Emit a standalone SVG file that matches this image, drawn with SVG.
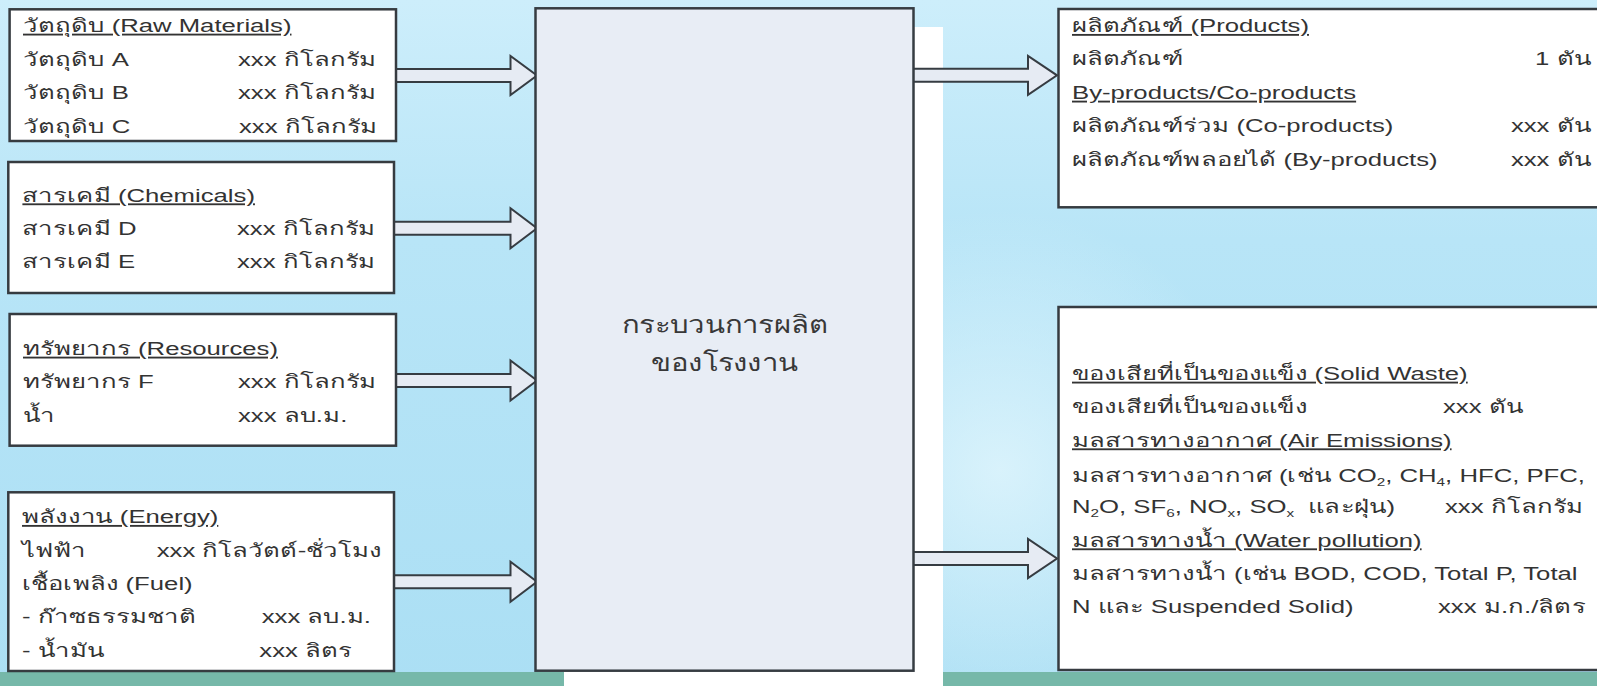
<svg xmlns="http://www.w3.org/2000/svg" width="1597" height="686" viewBox="0 0 1597 686">
<style>
.t{font-family:"Liberation Sans","Noto Sans","DejaVu Sans",sans-serif;font-size:18.5px;fill:#333333}
.u{text-decoration:underline}
.e{text-anchor:end}
.m{font-family:"Liberation Sans","Noto Sans","DejaVu Sans",sans-serif;font-size:24px;fill:#383838;text-anchor:middle}
.box{fill:#ffffff;stroke:#363b40;stroke-width:2.5}
.main{fill:#e8edf5;stroke:#363c42;stroke-width:2.5}
.arr{fill:#e6ebf3;stroke:#363c42;stroke-width:2;stroke-linejoin:miter}
</style>
<defs>
<linearGradient id="bg" x1="0" y1="0" x2="0" y2="1">
<stop offset="0" stop-color="#cdeefb"/>
<stop offset="0.35" stop-color="#b8e5f7"/>
<stop offset="1" stop-color="#abdff4"/>
</linearGradient>
<radialGradient id="glow" cx="1000" cy="470" r="260" gradientUnits="userSpaceOnUse">
<stop offset="0" stop-color="#e2f6fd" stop-opacity="0.8"/>
<stop offset="1" stop-color="#e2f6fd" stop-opacity="0"/>
</radialGradient>
</defs>
<rect x="0" y="0" width="1597" height="686" fill="url(#bg)"/>
<rect x="0" y="0" width="1597" height="686" fill="url(#glow)"/>
<rect x="0" y="672" width="1597" height="14" fill="#76b8a9"/>
<rect x="564" y="27" width="379" height="659" fill="#ffffff"/>

<g id="connectors">
<polygon class="arr" points="390,69 510.5,69 510.5,56 537,75.5 510.5,95 510.5,82 390,82"/>
<polygon class="arr" points="388,221.8 510.5,221.8 510.5,208.3 537,228.3 510.5,248.3 510.5,234.8 388,234.8"/>
<polygon class="arr" points="390,374 510.5,374 510.5,360.5 537,380.5 510.5,400.5 510.5,387 390,387"/>
<polygon class="arr" points="388,575.2 510.5,575.2 510.5,561.7 537,581.7 510.5,601.7 510.5,588.2 388,588.2"/>
<polygon class="arr" points="905,68.8 1028,68.8 1028,55.8 1057,75.3 1028,94.8 1028,81.8 905,81.8"/>
<polygon class="arr" points="905,552 1028,552 1028,539 1057,558.5 1028,578 1028,565 905,565"/>
</g>

<g id="raw-materials">
<rect class="box" x="9.6" y="9.3" width="386.4" height="131.7"/>
<text class="t u" transform="translate(23,32) scale(1.39,1)">วัตถุดิบ (Raw Materials)</text>
<text class="t" transform="translate(23,65.7) scale(1.39,1)">วัตถุดิบ A</text>
<text class="t" transform="translate(238,65.7) scale(1.39,1)">xxx กิโลกรัม</text>
<text class="t" transform="translate(23,99) scale(1.39,1)">วัตถุดิบ B</text>
<text class="t" transform="translate(238,99) scale(1.39,1)">xxx กิโลกรัม</text>
<text class="t" transform="translate(23,132.7) scale(1.39,1)">วัตถุดิบ C</text>
<text class="t" transform="translate(239,132.7) scale(1.39,1)">xxx กิโลกรัม</text>
</g>

<g id="chemicals">
<rect class="box" x="8.3" y="162" width="385.7" height="131"/>
<text class="t u" transform="translate(22.4,201.7) scale(1.39,1)">สารเคมี (Chemicals)</text>
<text class="t" transform="translate(22.4,235) scale(1.39,1)">สารเคมี D</text>
<text class="t" transform="translate(237,235) scale(1.39,1)">xxx กิโลกรัม</text>
<text class="t" transform="translate(22.4,268) scale(1.39,1)">สารเคมี E</text>
<text class="t" transform="translate(237,268) scale(1.39,1)">xxx กิโลกรัม</text>
</g>

<g id="resources">
<rect class="box" x="9.6" y="314" width="386.4" height="131.7"/>
<text class="t u" transform="translate(23,355) scale(1.39,1)">ทรัพยากร (Resources)</text>
<text class="t" transform="translate(23,388.3) scale(1.39,1)">ทรัพยากร F</text>
<text class="t" transform="translate(238,388.3) scale(1.39,1)">xxx กิโลกรัม</text>
<text class="t" transform="translate(23,421.7) scale(1.39,1)">น้ำ</text>
<text class="t" transform="translate(238,421.7) scale(1.39,1)">xxx ลบ.ม.</text>
</g>

<g id="energy">
<rect class="box" x="8.3" y="492.3" width="385.7" height="178.7"/>
<text class="t u" transform="translate(22,523.3) scale(1.39,1)">พลังงาน (Energy)</text>
<text class="t" transform="translate(22,556.7) scale(1.39,1)">ไฟฟ้า</text>
<text class="t" transform="translate(156.7,556.7) scale(1.39,1)">xxx กิโลวัตต์-ชั่วโมง</text>
<text class="t" transform="translate(22,590) scale(1.39,1)">เชื้อเพลิง (Fuel)</text>
<text class="t" transform="translate(22,623.3) scale(1.39,1)">- ก๊าซธรรมชาติ</text>
<text class="t" transform="translate(261.7,623.3) scale(1.39,1)">xxx ลบ.ม.</text>
<text class="t" transform="translate(22,656.7) scale(1.39,1)">- น้ำมัน</text>
<text class="t" transform="translate(259.3,656.7) scale(1.39,1)">xxx ลิตร</text>
</g>

<g id="process">
<rect class="main" x="535.5" y="8.3" width="378" height="662.4"/>
<text class="m" transform="translate(724.5,333) scale(1.22,1)">กระบวนการผลิต</text>
<text class="m" transform="translate(724.5,371) scale(1.22,1)">ของโรงงาน</text>
</g>

<g id="products">
<rect class="box" x="1058.5" y="9" width="560" height="198.3"/>
<text class="t u" transform="translate(1072,32.3) scale(1.39,1)">ผลิตภัณฑ์ (Products)</text>
<text class="t" transform="translate(1072,65) scale(1.39,1)">ผลิตภัณฑ์</text>
<text class="t e" transform="translate(1591,65) scale(1.39,1)">1 ตัน</text>
<text class="t u" transform="translate(1072,99) scale(1.39,1)">By-products/Co-products</text>
<text class="t" transform="translate(1072,132.3) scale(1.39,1)">ผลิตภัณฑ์ร่วม (Co-products)</text>
<text class="t e" transform="translate(1591,132.3) scale(1.39,1)">xxx ตัน</text>
<text class="t" transform="translate(1072,165.7) scale(1.39,1)">ผลิตภัณฑ์พลอยได้ (By-products)</text>
<text class="t e" transform="translate(1591,165.7) scale(1.39,1)">xxx ตัน</text>
</g>

<g id="wastes">
<rect class="box" x="1058.5" y="307" width="560" height="363"/>
<text class="t u" transform="translate(1072,380) scale(1.39,1)">ของเสียที่เป็นของแข็ง (Solid Waste)</text>
<text class="t" transform="translate(1072,413.3) scale(1.39,1)">ของเสียที่เป็นของแข็ง</text>
<text class="t" transform="translate(1443,413.3) scale(1.39,1)">xxx ตัน</text>
<text class="t u" transform="translate(1072,446.7) scale(1.39,1)">มลสารทางอากาศ (Air Emissions)</text>
<text class="t" transform="translate(1072,481.7) scale(1.39,1)">มลสารทางอากาศ (เช่น CO<tspan font-size="11" dy="4">2</tspan><tspan dy="-4">, CH</tspan><tspan font-size="11" dy="4">4</tspan><tspan dy="-4">, HFC, PFC,</tspan></text>
<text class="t" xml:space="preserve" transform="translate(1072,513.3) scale(1.39,1)">N<tspan font-size="11" dy="4">2</tspan><tspan dy="-4">O, SF</tspan><tspan font-size="11" dy="4">6</tspan><tspan dy="-4">, NO</tspan><tspan font-size="11" dy="4">x</tspan><tspan dy="-4">, SO</tspan><tspan font-size="11" dy="4">x</tspan><tspan dy="-4">  และฝุ่น)</tspan></text>
<text class="t" transform="translate(1445,513.3) scale(1.39,1)">xxx กิโลกรัม</text>
<text class="t u" transform="translate(1072,546.7) scale(1.39,1)">มลสารทางน้ำ (Water pollution)</text>
<text class="t" transform="translate(1072,580) scale(1.39,1)">มลสารทางน้ำ (เช่น BOD, COD, Total P, Total</text>
<text class="t" transform="translate(1072,613.3) scale(1.39,1)">N และ Suspended Solid)</text>
<text class="t" transform="translate(1438,613.3) scale(1.39,1)">xxx ม.ก./ลิตร</text>
</g>
</svg>
